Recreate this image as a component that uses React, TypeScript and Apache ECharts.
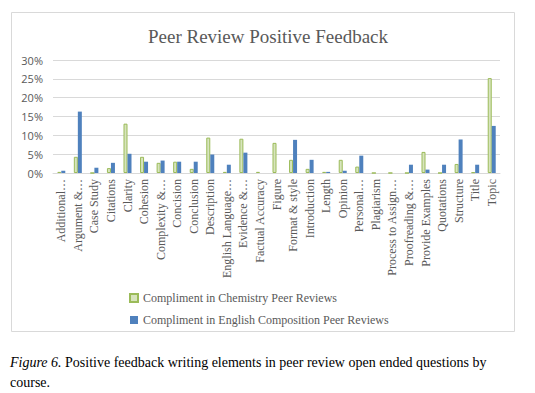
import React, { useEffect, useRef } from "react";
import * as echarts from "echarts";

const categories = [
  "Additional…", "Argument &…", "Case Study", "Citations", "Clarity", "Cohesion",
  "Complexity &…", "Concision", "Conclusion", "Description", "English Language…",
  "Evidence &…", "Factual Accuracy", "Figure", "Format & style", "Introduction",
  "Length", "Opinion", "Personal…", "Plagiarism", "Process to Assign…",
  "Proofreading &…", "Provide Examples", "Quotations", "Structure", "Title", "Topic",
];
const chemistry = [
  0.3, 4.3, 0, 1.3, 13.1, 4.3, 2.7, 3.0, 1.1, 9.4, 0.3, 9.1, 0.3, 8.0, 3.5, 1.1,
  0.3, 3.5, 1.7, 0, 0, 0, 5.6, 0, 2.4, 0.2, 25.2,
];
const english = [
  0.6, 16.3, 1.4, 2.7, 5.1, 3.0, 3.3, 3.0, 3.0, 4.9, 2.2, 5.4, 0, 0, 8.8, 3.5,
  0.3, 0.6, 4.6, 0, 0, 2.2, 0.9, 2.2, 8.9, 2.2, 12.5,
];
const seriesNames = [
  "Compliment in Chemistry Peer Reviews",
  "Compliment in English Composition Peer Reviews",
];
const titleText = "Peer Review Positive Feedback";
const captionItalic = "Figure 6.";
const captionLine1 = " Positive feedback writing elements in peer review open ended questions by";
const captionLine2 = "course.";

export default function App() {
  const ref = useRef<HTMLDivElement>(null);
  useEffect(() => {
    document.body.style.margin = "0";
    const chart = echarts.init(ref.current!, null, { renderer: "svg" });
    const serif = "'Liberation Serif', 'DejaVu Serif', serif";
    chart.setOption({
      animation: false,
      backgroundColor: "#ffffff",
      title: {
        text: titleText,
        left: "263",
        textAlign: "center",
        top: 22,
        textStyle: { fontFamily: serif, fontSize: 19, fontWeight: "normal", color: "#595959" },
      },
      grid: { left: 53, right: 35, top: 60, bottom: 220, containLabel: false },
      legend: {
        orient: "vertical",
        left: 124,
        top: 287,
        itemWidth: 8,
        itemHeight: 8,
        itemGap: 10,
        icon: "rect",
        textStyle: { fontFamily: serif, fontSize: 12, color: "#595959" },
        data: seriesNames,
      },
      xAxis: {
        type: "category",
        data: categories,
        axisLine: { lineStyle: { color: "#d9d9d9" } },
        axisTick: { show: false },
        axisLabel: {
          rotate: 90,
          interval: 0,
          fontFamily: serif,
          fontSize: 12,
          color: "#595959",
          margin: 6,
        },
      },
      yAxis: {
        type: "value",
        min: 0,
        max: 30,
        interval: 5,
        axisLabel: {
          formatter: "{value}%",
          fontFamily: "'Open Sans', 'Noto Sans', sans-serif",
          fontSize: 11,
          color: "#595959",
          margin: 10,
        },
        splitLine: { lineStyle: { color: "#d9d9d9" } },
        axisLine: { show: false },
        axisTick: { show: false },
      },
      series: [
        {
          name: seriesNames[0],
          type: "bar",
          data: chemistry,
          barWidth: 4,
          barGap: "0%",
          itemStyle: { color: "#d7e4bd", borderColor: "#9bbb59", borderWidth: 1 },
        },
        {
          name: seriesNames[1],
          type: "bar",
          data: english,
          barWidth: 4,
          itemStyle: { color: "#4f81bd" },
        },
      ],
      graphic: [
        {
          type: "rect",
          shape: { x: 11.5, y: 12.5, width: 503, height: 319 },
          style: { fill: "none", stroke: "#d9d9d9", lineWidth: 1 },
          silent: true,
        },
        {
          type: "text",
          left: 10,
          top: 355,
          style: {
            text: "{i|" + captionItalic + "}{n|" + captionLine1 + "}",
            rich: {
              i: { fontFamily: serif, fontSize: 14, fontStyle: "italic", fill: "#000" },
              n: { fontFamily: serif, fontSize: 14, fill: "#000" },
            },
          },
        },
        {
          type: "text",
          left: 10,
          top: 375,
          style: { text: captionLine2, fontFamily: serif, fontSize: 14, fill: "#000" },
        },
      ],
    });
    return () => chart.dispose();
  }, []);
  return <div ref={ref} style={{ width: 535, height: 393 }} />;
}
